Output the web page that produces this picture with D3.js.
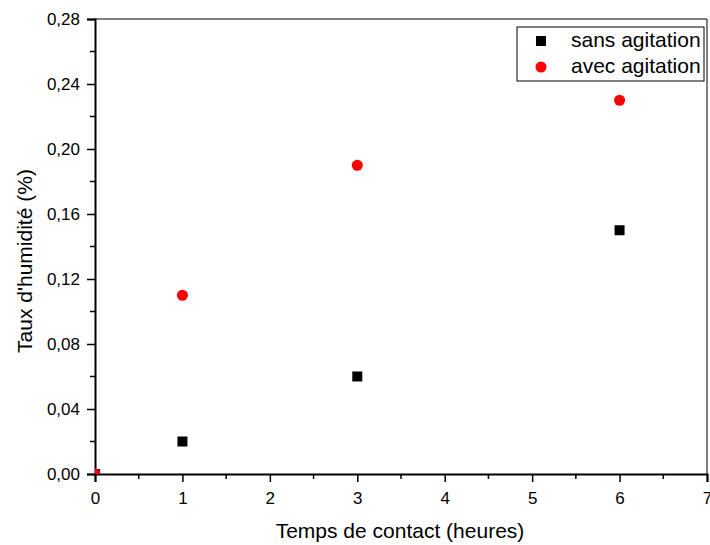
<!DOCTYPE html>
<html>
<head>
<meta charset="utf-8">
<script src="https://d3js.org/d3.v7.min.js"></script>
<style>
body { margin: 0; background: #fff; }
text { font-family: "Liberation Sans", Arial, sans-serif; fill: #000; }
</style>
</head>
<body>
<div id="chart"></div>
<script>
var hours = [0, 1, 3, 6];
var sansAgitation = [0, 0.02, 0.06, 0.15];
var avecAgitation = [0, 0.11, 0.19, 0.23];
var seriesNames = ["sans agitation", "avec agitation"];
var xTicks = [0, 1, 2, 3, 4, 5, 6, 7];
var yTicks = [0, 0.04, 0.08, 0.12, 0.16, 0.20, 0.24, 0.28];

var width = 710, height = 545;
var m = {left: 95, right: 3, top: 19, bottom: 71};

var svg = d3.select("#chart").append("svg")
    .attr("width", width).attr("height", height);

var x = d3.scaleLinear().domain([0, 7]).range([m.left, width - m.right]);
var y = d3.scaleLinear().domain([0, 0.28]).range([height - m.bottom, m.top]);

var fmt = function(d) { return d3.format(".2f")(d).replace(".", ","); };

svg.append("defs").append("clipPath").attr("id", "clip")
  .append("rect")
    .attr("x", m.left).attr("y", m.top)
    .attr("width", x(7) - m.left).attr("height", y(0) - m.top);

// frame: top and right thin
svg.append("line").attr("x1", x(0)).attr("x2", x(7)).attr("y1", y(0.28)).attr("y2", y(0.28))
    .attr("stroke", "#000").attr("stroke-width", 1);
svg.append("line").attr("x1", x(7)).attr("x2", x(7)).attr("y1", y(0.28)).attr("y2", y(0))
    .attr("stroke", "#000").attr("stroke-width", 1);

// minor ticks
var xMinor = d3.range(0.5, 7, 1);
var yMinor = d3.range(0.02, 0.28, 0.04);
svg.append("g").selectAll("line").data(xMinor).join("line")
    .attr("x1", d => x(d)).attr("x2", d => x(d))
    .attr("y1", y(0)).attr("y2", y(0) + 5)
    .attr("stroke", "#000").attr("stroke-width", 1.5);
svg.append("g").selectAll("line").data(yMinor).join("line")
    .attr("y1", d => y(d)).attr("y2", d => y(d))
    .attr("x1", x(0)).attr("x2", x(0) - 5)
    .attr("stroke", "#000").attr("stroke-width", 1.5);

var xAxis = svg.append("g")
    .attr("transform", "translate(0," + y(0) + ")")
    .call(d3.axisBottom(x).tickValues(xTicks).tickFormat(d3.format("d"))
      .tickSizeOuter(0).tickSize(8).tickPadding(10));
var yAxis = svg.append("g")
    .attr("transform", "translate(" + x(0) + ",0)")
    .call(d3.axisLeft(y).tickValues(yTicks).tickFormat(fmt)
      .tickSizeOuter(0).tickSize(8).tickPadding(7));

[xAxis, yAxis].forEach(function(a) {
  a.select(".domain").attr("stroke-width", 2);
  a.selectAll(".tick line").attr("stroke-width", 1.5);
  a.selectAll("text").style("font-size", "17px")
    .style("font-family", '"Liberation Sans", Arial, sans-serif');
});
yAxis.selectAll("text").attr("dy", "0.35em");

// points
var plot = svg.append("g").attr("clip-path", "url(#clip)");
plot.selectAll("rect.sans").data(hours).join("rect")
    .attr("class", "sans")
    .attr("x", (d) => x(d) - 5).attr("y", (d, i) => y(sansAgitation[i]) - 5)
    .attr("width", 10).attr("height", 10).attr("fill", "#000");
plot.selectAll("circle.avec").data(hours).join("circle")
    .attr("class", "avec")
    .attr("cx", (d) => x(d)).attr("cy", (d, i) => y(avecAgitation[i]))
    .attr("r", 5.5).attr("fill", "#ff0000");

// axis titles
svg.append("text")
    .attr("x", 400).attr("y", 538)
    .attr("text-anchor", "middle").style("font-size", "21px")
    .text("Temps de contact (heures)");
svg.append("text")
    .attr("transform", "translate(32,261) rotate(-90)")
    .attr("text-anchor", "middle").style("font-size", "21px")
    .text("Taux d'humidité (%)");

// legend
var lg = svg.append("g");
lg.append("rect").attr("x", 517).attr("y", 27).attr("width", 187).attr("height", 54)
    .attr("fill", "#fff").attr("stroke", "#000").attr("stroke-width", 1);
lg.append("rect").attr("x", 536).attr("y", 36).attr("width", 10).attr("height", 10).attr("fill", "#000");
lg.append("circle").attr("cx", 541).attr("cy", 67).attr("r", 5.5).attr("fill", "#ff0000");
lg.selectAll("text.lab").data(seriesNames).join("text")
    .attr("class", "lab")
    .attr("x", 571).attr("y", (d, i) => 47 + i * 26)
    .style("font-size", "21px")
    .text(d => d);
</script>
</body>
</html>
